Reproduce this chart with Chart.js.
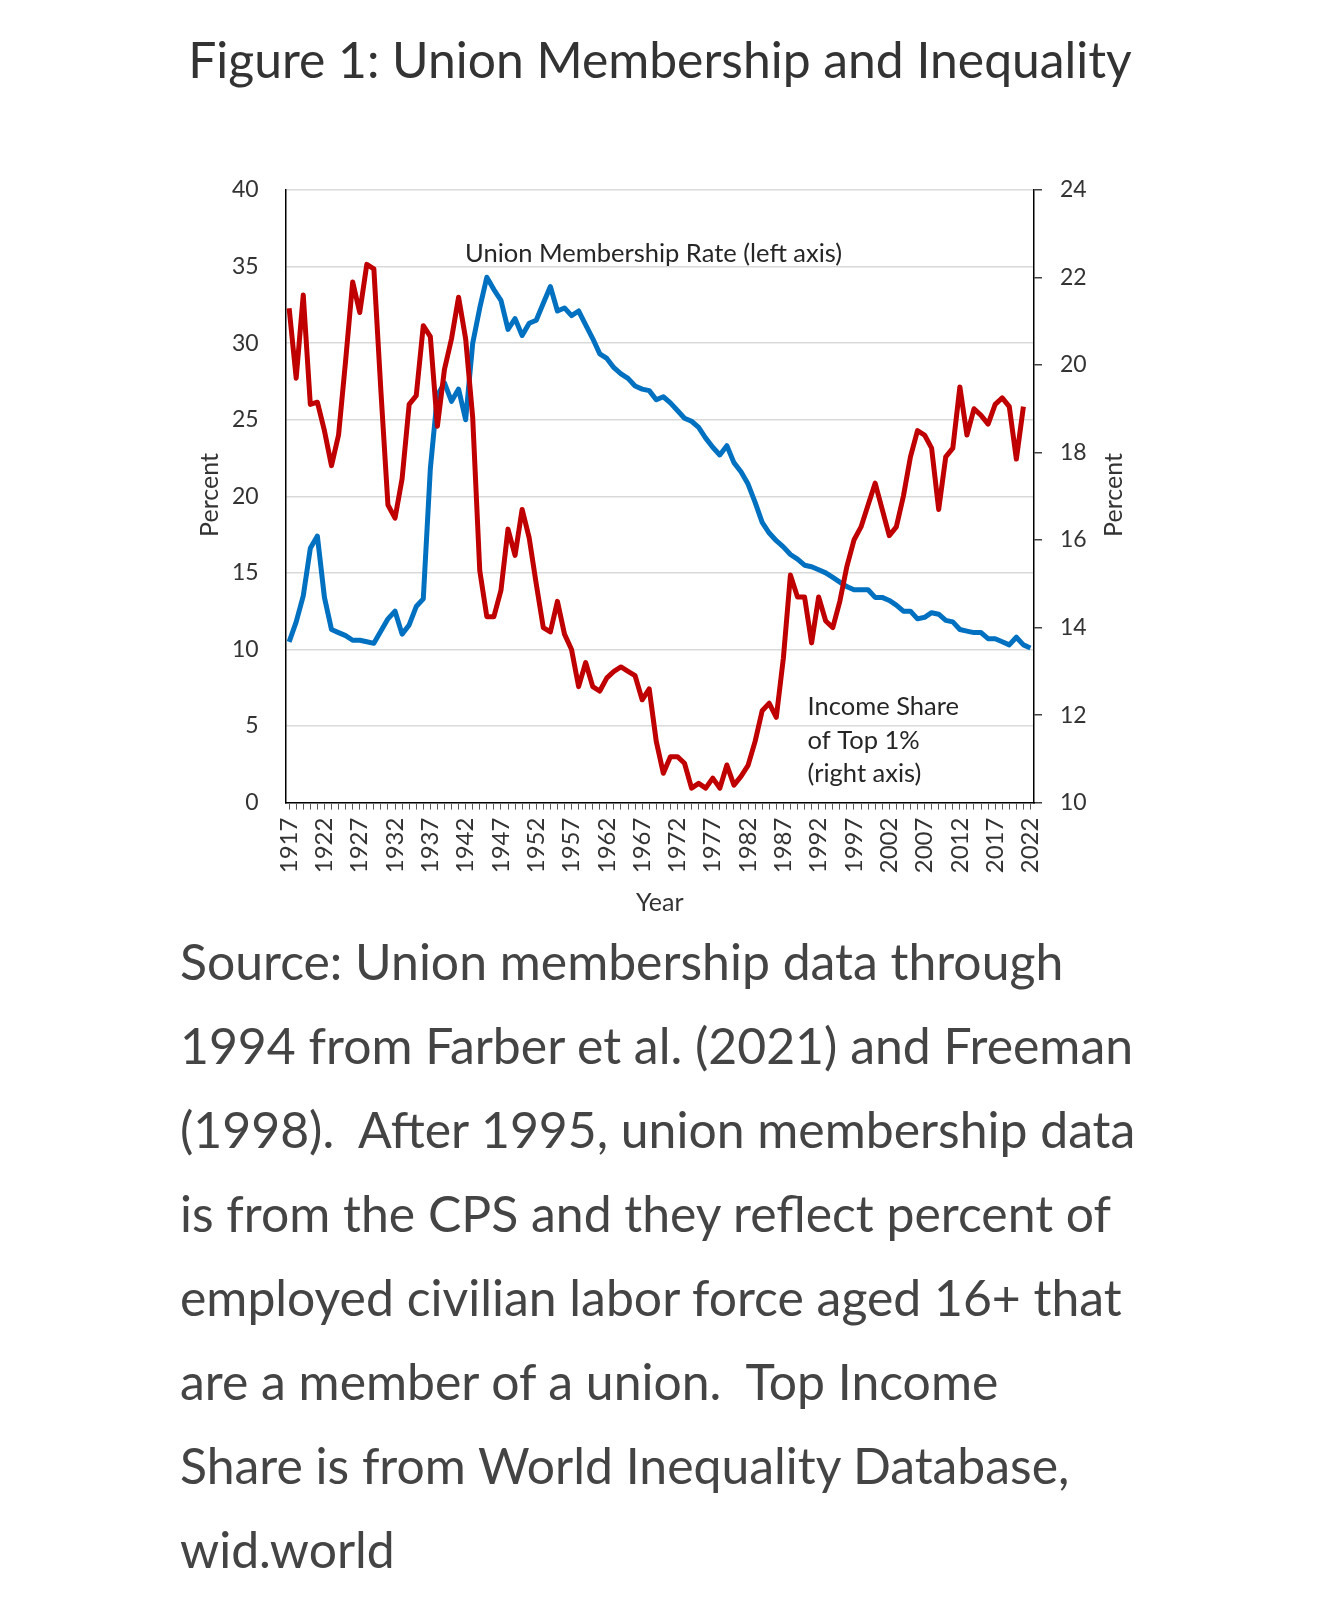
<!DOCTYPE html>
<html>
<head>
<meta charset="utf-8">
<script src="https://cdn.jsdelivr.net/npm/chart.js@4.4.1/dist/chart.umd.min.js"></script>
<style>
  body { margin: 0; background: #fff; width: 1320px; height: 1620px; position: relative; overflow: hidden; font-family: Lato, sans-serif; }
  #title { position: absolute; left: 0; width: 1320px; top: 22px; text-align: center; font-size: 46px; line-height: 74px; color: #333; white-space: nowrap; }
  #wrap { position: absolute; left: 0; top: 0; width: 1320px; height: 920px; }
  #caption { position: absolute; left: 180px; top: 919px; font-size: 48px; line-height: 84px; color: #444; white-space: nowrap; }
</style>
</head>
<body>
<div id="title">Figure 1: Union Membership and Inequality</div>
<div id="wrap"><canvas id="chart"></canvas></div>
<div id="caption">
  <span id="cap1">Source: Union membership data through</span><br>
  1994 from Farber et al. (2021) and Freeman<br>
  (1998).&nbsp; After 1995, union membership data<br>
  is from the CPS and they reflect percent of<br>
  employed civilian labor force aged 16+ that<br>
  are a member of a union.&nbsp; Top Income<br>
  Share is from World Inequality Database,<br>
  wid.world
</div>
<script>
// 資料：年份、工會會員率（左軸）、前1%所得份額（右軸）
const years = [
  1917, 1918, 1919, 1920, 1921, 1922, 1923, 1924, 1925, 1926,
  1927, 1928, 1929, 1930, 1931, 1932, 1933, 1934, 1935, 1936,
  1937, 1938, 1939, 1940, 1941, 1942, 1943, 1944, 1945, 1946,
  1947, 1948, 1949, 1950, 1951, 1952, 1953, 1954, 1955, 1956,
  1957, 1958, 1959, 1960, 1961, 1962, 1963, 1964, 1965, 1966,
  1967, 1968, 1969, 1970, 1971, 1972, 1973, 1974, 1975, 1976,
  1977, 1978, 1979, 1980, 1981, 1982, 1983, 1984, 1985, 1986,
  1987, 1988, 1989, 1990, 1991, 1992, 1993, 1994, 1995, 1996,
  1997, 1998, 1999, 2000, 2001, 2002, 2003, 2004, 2005, 2006,
  2007, 2008, 2009, 2010, 2011, 2012, 2013, 2014, 2015, 2016,
  2017, 2018, 2019, 2020, 2021, 2022
];

const unionRate = [
  10.5, 11.8, 13.5, 16.6, 17.4, 13.4, 11.3, 11.1, 10.9, 10.6,
  10.6, 10.5, 10.4, 11.2, 12.0, 12.5, 11.0, 11.6, 12.8, 13.3,
  21.8, 26.6, 27.4, 26.2, 27.0, 25.0, 30.0, 32.3, 34.3, 33.5,
  32.8, 30.9, 31.6, 30.5, 31.3, 31.5, 32.6, 33.7, 32.1, 32.3,
  31.8, 32.1, 31.2, 30.3, 29.3, 29.0, 28.4, 28.0, 27.7, 27.2,
  27.0, 26.9, 26.3, 26.5, 26.1, 25.6, 25.1, 24.9, 24.5, 23.8,
  23.2, 22.7, 23.3, 22.2, 21.6, 20.8, 19.6, 18.3, 17.6, 17.1,
  16.7, 16.2, 15.9, 15.5, 15.4, 15.2, 15.0, 14.7, 14.4, 14.1,
  13.9, 13.9, 13.9, 13.4, 13.4, 13.2, 12.9, 12.5, 12.5, 12.0,
  12.1, 12.4, 12.3, 11.9, 11.8, 11.3, 11.2, 11.1, 11.1, 10.7,
  10.7, 10.5, 10.3, 10.8, 10.3, 10.1
];

const top1Share = [
  21.3, 19.7, 21.6, 19.1, 19.15, 18.5, 17.7, 18.4, 20.1, 21.9,
  21.2, 22.3, 22.2, 19.4, 16.8, 16.5, 17.4, 19.1, 19.3, 20.9,
  20.65, 18.6, 19.9, 20.6, 21.55, 20.6, 18.8, 15.3, 14.25, 14.25,
  14.85, 16.25, 15.65, 16.7, 16.05, 15.0, 14.0, 13.9, 14.6, 13.85,
  13.5, 12.65, 13.2, 12.65, 12.55, 12.85, 13.0, 13.1, 13.0, 12.9,
  12.35, 12.6, 11.4, 10.67, 11.05, 11.05, 10.9, 10.33, 10.44, 10.33,
  10.56, 10.33, 10.86, 10.4, 10.6, 10.85, 11.4, 12.1, 12.27, 11.95,
  13.3, 15.2, 14.7, 14.7, 13.65, 14.7, 14.15, 14.0, 14.6, 15.4,
  16.0, 16.3, 16.8, 17.3, 16.7, 16.1, 16.3, 17.0, 17.9, 18.5,
  18.4, 18.1, 16.7, 17.9, 18.1, 19.5, 18.4, 19.0, 18.85, 18.65,
  19.1, 19.25, 19.05, 17.85, 19.05, null
];

const xTickYears = [1917, 1922, 1927, 1932, 1937, 1942, 1947, 1952, 1957, 1962, 1967,
                    1972, 1977, 1982, 1987, 1992, 1997, 2002, 2007, 2012, 2017, 2022];
const leftTicks = [0, 5, 10, 15, 20, 25, 30, 35, 40];
const rightTicks = [10, 12, 14, 16, 18, 20, 22, 24];

// 標題與說明文字寬度
function fitWidth(el, sample, target) {
    const c = document.createElement('canvas').getContext('2d');
    c.font = '100px Lato';
    const w = c.measureText(sample).width;
    el.style.fontSize = (100 * target / w).toFixed(1) + 'px';
}
fitWidth(document.getElementById('title'), 'Figure 1: Union Membership and Inequality', 944);
fitWidth(document.getElementById('caption'), 'Source: Union membership data through', 884);

// 圖內文字
const labelPlugin = {
    id: 'labels',
    afterDraw(chart) {
        const { ctx, chartArea: a } = chart;
        ctx.save();
        ctx.fillStyle = '#262626';
        ctx.font = '25.5px Lato';
        ctx.textAlign = 'center';
        ctx.textBaseline = 'middle';
        ctx.fillText('Union Membership Rate (left axis)', a.left + 368, a.top + 64);
        ctx.textAlign = 'left';
        ['Income Share', 'of Top 1%', '(right axis)'].forEach(function(t, i) {
            ctx.fillText(t, a.left + 522, a.top + 517 + i * 33.5);
        });
        ctx.fillStyle = '#333';
        ctx.font = '25px Lato';
        ctx.textAlign = 'center';
        ctx.fillText('Year', (a.left + a.right) / 2, a.bottom + 100);
        [[a.left - 76, 'Percent'], [a.right + 80, 'Percent']].forEach(function(p) {
            ctx.save();
            ctx.translate(p[0], a.top + 305);
            ctx.rotate(-Math.PI / 2);
            ctx.fillText(p[1], 0, 0);
            ctx.restore();
        });
        ctx.restore();
    }
};

Chart.defaults.font.family = 'Lato';
Chart.defaults.color = '#333';

new Chart(document.getElementById('chart').getContext('2d'), {
    type: 'line',
    data: {
        labels: years,
        datasets: [{
            label: 'Union Membership Rate (left axis)',
            data: unionRate,
            yAxisID: 'y',
            borderColor: '#0070C0',
            borderWidth: 5,
            borderJoinStyle: 'round',
            pointRadius: 0,
            tension: 0,
            order: 2
        }, {
            label: 'Income Share of Top 1% (right axis)',
            data: top1Share,
            yAxisID: 'y1',
            borderColor: '#C00000',
            borderWidth: 5,
            borderJoinStyle: 'round',
            pointRadius: 0,
            tension: 0,
            order: 1
        }]
    },
    options: {
        responsive: true,
        maintainAspectRatio: false,
        animation: false,
        layout: { padding: { top: 190, left: 0, right: 0, bottom: 0 } },
        plugins: { legend: { display: false }, tooltip: { enabled: false } },
        scales: {
            x: {
                type: 'category',
                offset: true,
                grid: { drawOnChartArea: false, drawTicks: true, tickLength: 7, color: '#595959', lineWidth: 1 },
                border: { display: true, color: '#000', width: 1.5 },
                ticks: {
                    autoSkip: false,
                    maxRotation: 90,
                    minRotation: 90,
                    padding: 8,
                    font: { size: 24 },
                    callback: function(v, i) {
                        return xTickYears.includes(years[i]) ? String(years[i]) : '';
                    }
                },
                afterFit: function(s) { s.height = 920 - 802.6; }
            },
            y: {
                position: 'left',
                min: leftTicks[0],
                max: leftTicks[leftTicks.length - 1],
                grid: { color: '#d9d9d9', lineWidth: 1.5, drawTicks: false },
                border: { display: true, color: '#000', width: 1.5 },
                ticks: { stepSize: 5, padding: 27, font: { size: 23 } },
                afterFit: function(s) { s.width = 285.6; }
            },
            y1: {
                position: 'right',
                min: rightTicks[0],
                max: rightTicks[rightTicks.length - 1],
                grid: { drawOnChartArea: false, drawTicks: true, tickLength: 8, color: '#404040', lineWidth: 1.5 },
                border: { display: true, color: '#000', width: 1.5 },
                ticks: { stepSize: 2, padding: 18, font: { size: 23 } },
                afterFit: function(s) { s.width = 1320 - 1034; }
            }
        }
    },
    plugins: [labelPlugin]
});
</script>
</body>
</html>
